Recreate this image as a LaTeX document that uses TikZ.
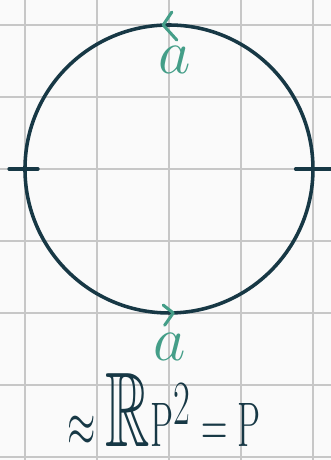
\documentclass[tikz,border=0pt]{standalone}
\usepackage{amssymb}
\usepackage{tikz}
\definecolor{ink}{HTML}{173845}
\definecolor{edgegreen}{HTML}{449E88}
\definecolor{paper}{HTML}{FAFAFA}
\tikzstyle{grid line}=[draw=black!22, line width=0.6pt]
\tikzstyle{chalk}=[draw=ink, line width=1.4pt, line cap=round]
\tikzstyle{arrowmark}=[draw=edgegreen, line width=1.2pt, line cap=round, line join=round]
\tikzstyle{lbl}=[text=edgegreen, inner sep=0pt, font=\fontsize{25}{25}\selectfont]
\tikzstyle{formula}=[text=ink, inner sep=0pt, anchor=base, font=\fontsize{42}{42}\selectfont]

\begin{document}
\begin{tikzpicture}
  \fill[paper] (-0.347,0.347) rectangle (4.25,-6.042);
  \useasboundingbox (-0.347,0.347) rectangle (4.25,-6.042);
  \foreach \x in {0,...,4}
    \draw[grid line] (\x,0.347) -- (\x,-6.042);
  \foreach \y in {0,...,6}
    \draw[grid line] (-0.347,-\y) -- (4.25,-\y);
  \draw[chalk] (2,-2) circle (2);
  \draw[chalk] (-0.22,-2) -- (0.18,-2);
  \draw[chalk] (3.76,-2) -- (4.3,-2);
  % gluing marks
  \draw[arrowmark] (2.04,0.18) -- (1.92,0) -- (2.11,-0.21);
  \node[lbl] (atop) at (2.08,-0.49) {$a$};
  \draw[arrowmark] (1.92,-3.89) -- (2.06,-4.0) -- (1.94,-4.17);
  \node[lbl] (abot) at (2.01,-4.47) {$a$};
  \node[formula] (eq) at (1.93,-5.86) {\scalebox{0.58}[1]{$\approx\mathbb{R}\mathrm{P}^{2}=\mathrm{P}$}};
\end{tikzpicture}
\end{document}
